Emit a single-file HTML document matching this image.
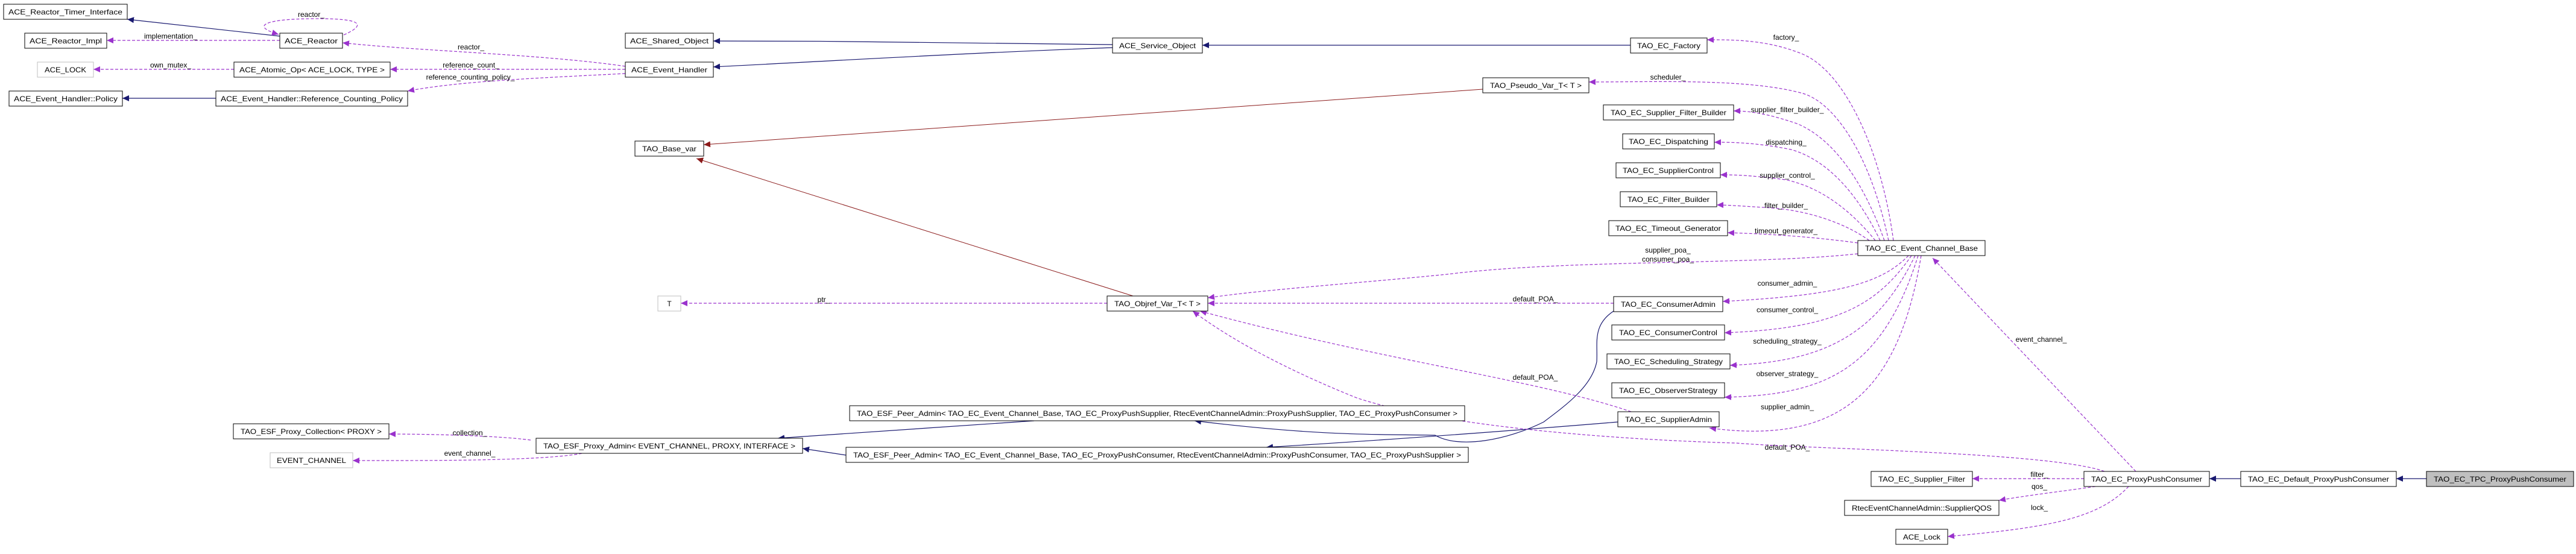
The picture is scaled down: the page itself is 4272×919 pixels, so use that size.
<!DOCTYPE html>
<html><head><meta charset="utf-8"><style>
html,body{margin:0;padding:0;background:#fff;}
svg{display:block;}
text{font-family:"Liberation Sans",sans-serif;font-size:12px;fill:#000;}
.n{fill:#fff;stroke:#000;stroke-width:1;}
.g{fill:#fff;stroke:#bfbfbf;stroke-width:1;}
.inh{fill:none;stroke:#191970;stroke-width:1.2;}
.use{fill:none;stroke:#9a32cd;stroke-width:1.2;stroke-dasharray:5,3;}
.tpl{fill:none;stroke:#8b1a1a;stroke-width:1;}
.tpd{fill:none;stroke:#8b1a1a;stroke-width:1;stroke-dasharray:1,1;}
</style></head><body>
<svg width="4272" height="919" viewBox="0 0 4272 919" xmlns="http://www.w3.org/2000/svg">
<defs>
<marker id="ab" markerUnits="userSpaceOnUse" markerWidth="12" markerHeight="10" refX="11" refY="5" orient="auto"><path d="M0,0 L11,5 L0,10 z" fill="#191970"/></marker>
<marker id="ap" markerUnits="userSpaceOnUse" markerWidth="12" markerHeight="10" refX="11" refY="5" orient="auto"><path d="M0,0 L11,5 L0,10 z" fill="#9a32cd"/></marker>
<marker id="ar" markerUnits="userSpaceOnUse" markerWidth="12" markerHeight="10" refX="11" refY="5" orient="auto"><path d="M0,0 L11,5 L0,10 z" fill="#8b1a1a"/></marker>
</defs>

<!-- edges -->
<path class="inh" marker-end="url(#ab)" d="M464,60 L211,32"/>
<path class="use" marker-end="url(#ap)" d="M570,58 C610,40 600,30 516,31 C430,32 420,45 462,57"/>
<path class="use" marker-end="url(#ap)" d="M464,67 L177,67"/>
<path class="use" marker-end="url(#ap)" d="M1037,110 C900,90 700,85 568,71"/>
<path class="use" marker-end="url(#ap)" d="M388,115 L155,115"/>
<path class="use" marker-end="url(#ap)" d="M1037,115 L647,115"/>
<path class="use" marker-end="url(#ap)" d="M1037,122 C880,130 760,135 676,151"/>
<path class="inh" marker-end="url(#ab)" d="M358,163 L203,163"/>
<path class="inh" marker-end="url(#ab)" d="M1845,74 C1600,70 1400,68 1183,68"/>
<path class="inh" marker-end="url(#ab)" d="M1845,79 C1600,88 1400,100 1183,111"/>
<path class="inh" marker-end="url(#ab)" d="M2704,75 L1994,75"/>
<path class="tpl" marker-end="url(#ar)" d="M2459,148 L1167,240"/>
<path class="tpl" marker-end="url(#ar)" d="M1879,491 L1155,263"/>

<path class="use" marker-end="url(#ap)" d="M3140,399 C3120,250 3060,120 2990,90 C2930,65 2870,66 2831,66"/>
<path class="use" marker-end="url(#ap)" d="M3132,399 C3100,250 3040,170 2990,155 C2900,130 2750,136 2635,136"/>
<path class="use" marker-end="url(#ap)" d="M3125,399 C3090,300 3040,230 2980,205 C2930,188 2900,184 2875,184"/>
<path class="use" marker-end="url(#ap)" d="M3118,399 C3080,320 3030,265 2970,248 C2910,236 2870,236 2843,236"/>
<path class="use" marker-end="url(#ap)" d="M3110,399 C3070,350 3020,310 2960,298 C2900,290 2870,290 2853,290"/>
<path class="use" marker-end="url(#ap)" d="M3100,399 C3060,370 3000,350 2940,345 C2890,342 2865,340 2847,340"/>
<path class="use" marker-end="url(#ap)" d="M3081,403 C3000,392 2930,388 2865,386"/>
<path class="use" marker-end="url(#ap)" d="M3081,421 C2900,440 2600,430 2400,455 C2250,470 2100,480 2003,494"/>
<path class="use" marker-end="url(#ap)" d="M2676,503 L2003,503"/>
<path class="use" marker-end="url(#ap)" d="M1836,503 L1129,503"/>
<path class="use" marker-end="url(#ap)" d="M3165,424 C3120,470 3050,490 2857,500"/>
<path class="use" marker-end="url(#ap)" d="M3170,424 C3110,510 3040,545 2860,552"/>
<path class="use" marker-end="url(#ap)" d="M3176,424 C3110,560 3020,600 2869,606"/>
<path class="use" marker-end="url(#ap)" d="M3181,424 C3120,620 3020,655 2860,659"/>
<path class="use" marker-end="url(#ap)" d="M3186,424 C3150,640 3060,740 2835,710"/>
<path class="inh" marker-end="url(#ab)" d="M2676,516 C2640,540 2650,570 2648,600 C2640,640 2600,670 2560,700 C2500,730 2420,745 2380,722 C2300,720 2200,725 1981,698"/>
<path class="inh" marker-end="url(#ab)" d="M2683,700 C2500,715 2300,730 2100,742"/>
<path class="inh" marker-end="url(#ab)" d="M1715,698 C1550,710 1400,720 1290,727"/>
<path class="inh" marker-end="url(#ab)" d="M1403,755 L1331,744"/>
<path class="use" marker-end="url(#ap)" d="M2705,683 C2550,630 2300,600 1990,516"/>
<path class="use" marker-end="url(#ap)" d="M3490,782 C3400,750 3000,745 2880,735 C2700,730 2400,710 2250,660 C2150,620 2050,570 1978,516"/>
<path class="use" marker-end="url(#ap)" d="M880,730 C820,722 700,720 645,720"/>
<path class="use" marker-end="url(#ap)" d="M965,752 C900,765 700,764 585,764"/>
<path class="use" marker-end="url(#ap)" d="M3542,782 L3205,428"/>
<path class="use" marker-end="url(#ap)" d="M3456,794 L3271,794"/>
<path class="use" marker-end="url(#ap)" d="M3475,807 C3420,815 3360,822 3315,830"/>
<path class="use" marker-end="url(#ap)" d="M3530,807 C3480,860 3400,875 3230,890"/>
<path class="inh" marker-end="url(#ab)" d="M3716,794 L3664,794"/>
<path class="inh" marker-end="url(#ab)" d="M4024,794 L3974,794"/>

<!-- edge labels -->
<g text-anchor="middle">
<text x="516" y="28">reactor_</text>
<text x="283" y="64">implementation_</text>
<text x="781" y="82">reactor_</text>
<text x="283" y="112">own_mutex_</text>
<text x="781" y="112">reference_count_</text>
<text x="780" y="132">reference_counting_policy_</text>
<text x="2962" y="66">factory_</text>
<text x="2766" y="132">scheduler_</text>
<text x="2964" y="186">supplier_filter_builder_</text>
<text x="2962" y="240">dispatching_</text>
<text x="2964" y="295">supplier_control_</text>
<text x="2962" y="345">filter_builder_</text>
<text x="2962" y="387">timeout_generator_</text>
<text x="2766" y="419">supplier_poa_</text>
<text x="2766" y="434">consumer_poa_</text>
<text x="2964" y="474">consumer_admin_</text>
<text x="2964" y="518">consumer_control_</text>
<text x="2964" y="570">scheduling_strategy_</text>
<text x="2964" y="624">observer_strategy_</text>
<text x="2964" y="679">supplier_admin_</text>
<text x="2546" y="500">default_POA_</text>
<text x="2546" y="630">default_POA_</text>
<text x="2964" y="746">default_POA_</text>
<text x="1366" y="501">ptr_</text>
<text x="779" y="722">collection_</text>
<text x="779" y="756">event_channel_</text>
<text x="3385" y="567">event_channel_</text>
<text x="3382" y="791">filter_</text>
<text x="3382" y="811">qos_</text>
<text x="3382" y="846">lock_</text>
</g>

<!-- nodes -->
<g text-anchor="middle">
<rect class="n" x="6" y="7" width="205" height="25"/><text x="108.5" y="24" textLength="189" lengthAdjust="spacingAndGlyphs">ACE_Reactor_Timer_Interface</text>
<rect class="n" x="41" y="55" width="136" height="25"/><text x="109" y="72" textLength="120" lengthAdjust="spacingAndGlyphs">ACE_Reactor_Impl</text>
<rect class="n" x="464" y="55" width="104" height="25"/><text x="516" y="72" textLength="88" lengthAdjust="spacingAndGlyphs">ACE_Reactor</text>
<rect class="g" x="62" y="103" width="93" height="25"/><text x="108.5" y="120" textLength="69" lengthAdjust="spacingAndGlyphs">ACE_LOCK</text>
<rect class="n" x="388" y="103" width="259" height="25"/><text x="517.5" y="120" textLength="241" lengthAdjust="spacingAndGlyphs">ACE_Atomic_Op&lt; ACE_LOCK, TYPE &gt;</text>
<rect class="n" x="15" y="151" width="188" height="25"/><text x="109" y="168" textLength="172" lengthAdjust="spacingAndGlyphs">ACE_Event_Handler::Policy</text>
<rect class="n" x="358" y="151" width="318" height="25"/><text x="517" y="168" textLength="302" lengthAdjust="spacingAndGlyphs">ACE_Event_Handler::Reference_Counting_Policy</text>
<rect class="n" x="1037" y="55" width="146" height="25"/><text x="1110" y="72" textLength="130" lengthAdjust="spacingAndGlyphs">ACE_Shared_Object</text>
<rect class="n" x="1037" y="103" width="146" height="25"/><text x="1110" y="120" textLength="126" lengthAdjust="spacingAndGlyphs">ACE_Event_Handler</text>
<rect class="n" x="1845" y="63" width="149" height="25"/><text x="1919.5" y="80" textLength="127" lengthAdjust="spacingAndGlyphs">ACE_Service_Object</text>
<rect class="n" x="1053" y="234" width="114" height="25"/><text x="1110" y="251" textLength="90" lengthAdjust="spacingAndGlyphs">TAO_Base_var</text>
<rect class="n" x="2704" y="63" width="127" height="25"/><text x="2767.5" y="80" textLength="105" lengthAdjust="spacingAndGlyphs">TAO_EC_Factory</text>
<rect class="n" x="2459" y="129" width="176" height="25"/><text x="2547" y="146" textLength="152" lengthAdjust="spacingAndGlyphs">TAO_Pseudo_Var_T&lt; T &gt;</text>
<rect class="n" x="2659" y="174" width="216" height="25"/><text x="2767" y="191" textLength="192" lengthAdjust="spacingAndGlyphs">TAO_EC_Supplier_Filter_Builder</text>
<rect class="n" x="2691" y="222" width="152" height="25"/><text x="2767" y="239" textLength="132" lengthAdjust="spacingAndGlyphs">TAO_EC_Dispatching</text>
<rect class="n" x="2680" y="270" width="173" height="25"/><text x="2766.5" y="287" textLength="151" lengthAdjust="spacingAndGlyphs">TAO_EC_SupplierControl</text>
<rect class="n" x="2687" y="318" width="160" height="25"/><text x="2767" y="335" textLength="136" lengthAdjust="spacingAndGlyphs">TAO_EC_Filter_Builder</text>
<rect class="n" x="2668" y="366" width="197" height="25"/><text x="2766.5" y="383" textLength="175" lengthAdjust="spacingAndGlyphs">TAO_EC_Timeout_Generator</text>
<rect class="n" x="3081" y="399" width="211" height="25"/><text x="3186.5" y="416" textLength="187" lengthAdjust="spacingAndGlyphs">TAO_EC_Event_Channel_Base</text>
<rect class="g" x="1091" y="491" width="38" height="25"/><text x="1110" y="508">T</text>
<rect class="n" x="1836" y="491" width="167" height="25"/><text x="1919.5" y="508" textLength="143" lengthAdjust="spacingAndGlyphs">TAO_Objref_Var_T&lt; T &gt;</text>
<rect class="n" x="2676" y="492" width="181" height="25"/><text x="2766.5" y="509" textLength="157" lengthAdjust="spacingAndGlyphs">TAO_EC_ConsumerAdmin</text>
<rect class="n" x="2673" y="539" width="187" height="25"/><text x="2766.5" y="556" textLength="163" lengthAdjust="spacingAndGlyphs">TAO_EC_ConsumerControl</text>
<rect class="n" x="2665" y="587" width="204" height="25"/><text x="2767" y="604" textLength="180" lengthAdjust="spacingAndGlyphs">TAO_EC_Scheduling_Strategy</text>
<rect class="n" x="2673" y="635" width="187" height="25"/><text x="2766.5" y="652" textLength="163" lengthAdjust="spacingAndGlyphs">TAO_EC_ObserverStrategy</text>
<rect class="n" x="2683" y="683" width="168" height="25"/><text x="2767" y="700" textLength="144" lengthAdjust="spacingAndGlyphs">TAO_EC_SupplierAdmin</text>
<rect class="n" x="1409" y="673" width="1020" height="25"/><text x="1919" y="690" textLength="996" lengthAdjust="spacingAndGlyphs">TAO_ESF_Peer_Admin&lt; TAO_EC_Event_Channel_Base, TAO_EC_ProxyPushSupplier, RtecEventChannelAdmin::ProxyPushSupplier, TAO_EC_ProxyPushConsumer &gt;</text>
<rect class="n" x="1403" y="742" width="1032" height="25"/><text x="1919" y="759" textLength="1008" lengthAdjust="spacingAndGlyphs">TAO_ESF_Peer_Admin&lt; TAO_EC_Event_Channel_Base, TAO_EC_ProxyPushConsumer, RtecEventChannelAdmin::ProxyPushConsumer, TAO_EC_ProxyPushSupplier &gt;</text>
<rect class="n" x="387" y="703" width="258" height="25"/><text x="516" y="720" textLength="234" lengthAdjust="spacingAndGlyphs">TAO_ESF_Proxy_Collection&lt; PROXY &gt;</text>
<rect class="n" x="889" y="727" width="442" height="25"/><text x="1110" y="744" textLength="418" lengthAdjust="spacingAndGlyphs">TAO_ESF_Proxy_Admin&lt; EVENT_CHANNEL, PROXY, INTERFACE &gt;</text>
<rect class="g" x="448" y="751" width="137" height="25"/><text x="516.5" y="768" textLength="115" lengthAdjust="spacingAndGlyphs">EVENT_CHANNEL</text>
<rect class="n" x="3103" y="782" width="168" height="25"/><text x="3187" y="799" textLength="144" lengthAdjust="spacingAndGlyphs">TAO_EC_Supplier_Filter</text>
<rect class="n" x="3059" y="830" width="256" height="25"/><text x="3187" y="847" textLength="232" lengthAdjust="spacingAndGlyphs">RtecEventChannelAdmin::SupplierQOS</text>
<rect class="n" x="3144" y="878" width="86" height="25"/><text x="3187" y="895" textLength="62" lengthAdjust="spacingAndGlyphs">ACE_Lock</text>
<rect class="n" x="3456" y="782" width="208" height="25"/><text x="3560" y="799" textLength="184" lengthAdjust="spacingAndGlyphs">TAO_EC_ProxyPushConsumer</text>
<rect class="n" x="3716" y="782" width="258" height="25"/><text x="3845" y="799" textLength="234" lengthAdjust="spacingAndGlyphs">TAO_EC_Default_ProxyPushConsumer</text>
<rect x="4024" y="782" width="244" height="25" fill="#bfbfbf" stroke="#000"/><text x="4146" y="799" textLength="220" lengthAdjust="spacingAndGlyphs">TAO_EC_TPC_ProxyPushConsumer</text>
</g>
</svg>
</body></html>
